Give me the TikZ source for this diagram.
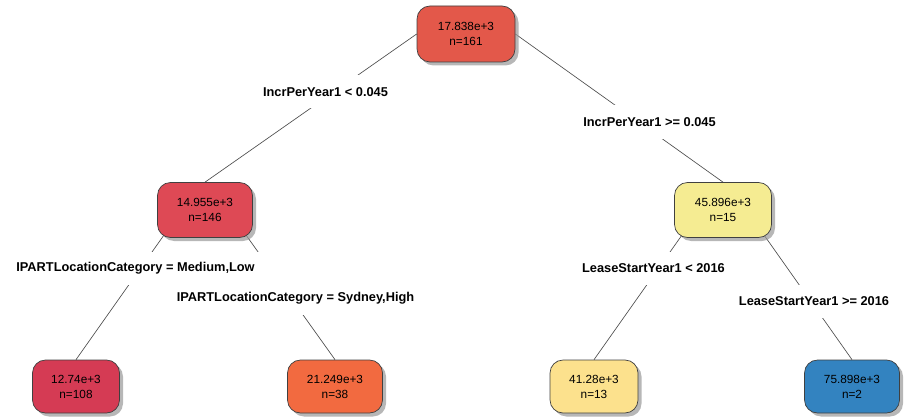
\documentclass[tikz,border=0pt]{standalone}
\usepackage{fontspec}
\setmainfont{Liberation Sans}
\usetikzlibrary{shadows,calc}
\pgfdeclarelayer{background}
\pgfsetlayers{background,main}
\definecolor{cRoot}{HTML}{E3584A}
\definecolor{cA}{HTML}{DE4955}
\definecolor{cAA}{HTML}{D53B54}
\definecolor{cAB}{HTML}{F26A40}
\definecolor{cB}{HTML}{F5EC92}
\definecolor{cBA}{HTML}{FCE18D}
\definecolor{cBB}{HTML}{3383C0}
\begin{document}
\begin{tikzpicture}[x=1pt,y=-1pt,
  tnode/.style={draw=black!75, line width=0.7pt, rounded corners=13pt, align=center,
    font=\fontsize{11.8}{15}\selectfont, minimum height=55pt, inner sep=0pt,
    drop shadow={shadow xshift=3.5pt, shadow yshift=-3.5pt, fill=black!40, opacity=0.7}},
  leafbox/.style={tnode, minimum height=53pt},
  split/.style={fill=white, font=\bfseries\fontsize{12.8}{15}\selectfont,
    minimum height=33pt, inner xsep=3pt, inner ysep=0pt},
  edge/.style={draw=black!70, line width=0.65pt}]
\useasboundingbox (0,0) rectangle (909,417);

\node[tnode, fill=cRoot, minimum width=98pt, minimum height=56pt] (root) at (466,34) {17.838e+3\\n=161};
\node[tnode, fill=cA, minimum width=95pt] (n2) at (205,210) {14.955e+3\\n=146};
\node[tnode, fill=cB, minimum width=97pt] (n3) at (723,210) {45.896e+3\\n=15};
\node[leafbox, fill=cAA, minimum width=87pt] (l4) at (76,386.5) {12.74e+3\\n=108};
\node[leafbox, fill=cAB, minimum width=95pt] (l5) at (335,386.5) {21.249e+3\\n=38};
\node[leafbox, fill=cBA, minimum width=88pt] (l6) at (594,386.5) {41.28e+3\\n=13};
\node[leafbox, fill=cBB, minimum width=95pt] (l7) at (852,386.5) {75.898e+3\\n=2};

\begin{pgfonlayer}{background}
\draw[edge] (root.west) -- (n2.north);
\draw[edge] (root.east) -- (n3.north);
\draw[edge, shorten <=-10pt] ([xshift=-43pt]n2.south) -- (l4.north);
\draw[edge, shorten <=-10pt] ([xshift=43pt]n2.south) -- (l5.north);
\draw[edge, shorten <=-10pt] ([xshift=-43pt]n3.south) -- (l6.north);
\draw[edge, shorten <=-10pt] ([xshift=43pt]n3.south) -- (l7.north);

\node[split] (s1) at (325.5,92) {IncrPerYear1 < 0.045};
\node[split] (s2) at (649.5,122) {IncrPerYear1 >= 0.045};
\node[split, inner xsep=28pt] (s3) at (135.5,268) {IPARTLocationCategory = Medium,Low};
\node[split] (s4) at (295.5,298) {IPARTLocationCategory = Sydney,High};
\node[split] (s5) at (653.5,268) {LeaseStartYear1 < 2016};
\node[split] (s6) at (814,301) {LeaseStartYear1 >= 2016};
\end{pgfonlayer}
\end{tikzpicture}
\end{document}
